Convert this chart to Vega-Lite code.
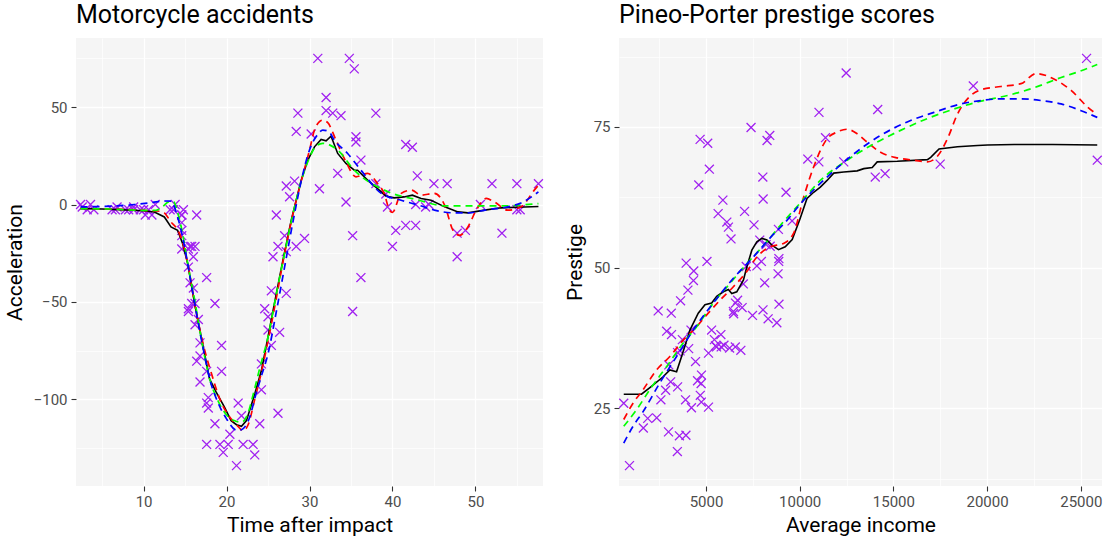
{
"$schema": "https://vega.github.io/schema/vega-lite/v6.json",
"background": "white",
"padding": {"left": 4, "top": 3, "right": 5, "bottom": 5},
"spacing": 18,
"config": {
  "font": "Roboto",
  "view": {"fill": "#F5F5F5", "stroke": null},
  "axis": {"domain": false, "gridColor": "#FFFFFF", "tickColor": "#333333", "tickSize": 5, "tickWidth": 1.1, "labelColor": "#4D4D4D", "labelFontSize": 15, "labelPadding": 3, "titleFontSize": 21, "titleFontWeight": "normal", "titleColor": "#000000", "labelOverlap": false, "labelFlush": false},
  "axisY": {"titlePadding": 8, "labelPadding": 4},
  "axisX": {"titlePadding": 5},
  "title": {"fontSize": 25, "fontWeight": "normal", "color": "#000000", "anchor": "start", "frame": "group", "baseline": "alphabetic", "offset": 10}
},
"datasets": {
"mcycle": [
{"t":2.4,"a":0},{"t":2.6,"a":-1.3},{"t":3.2,"a":-2.7},{"t":3.6,"a":0},{"t":4.0,"a":-2.7},{"t":6.2,"a":-2.7},{"t":6.6,"a":-2.7},{"t":6.8,"a":-1.3},{"t":7.8,"a":-2.7},{"t":8.2,"a":-2.7},
{"t":8.8,"a":-1.3},{"t":8.8,"a":-2.7},{"t":9.6,"a":-2.7},{"t":10.0,"a":-2.7},{"t":10.2,"a":-5.4},{"t":10.6,"a":-2.7},{"t":11.0,"a":-5.4},{"t":11.4,"a":0},{"t":13.2,"a":-2.7},{"t":13.6,"a":-2.7},
{"t":13.8,"a":0},{"t":14.6,"a":-13.3},{"t":14.6,"a":-5.4},{"t":14.6,"a":-5.4},{"t":14.6,"a":-9.3},{"t":14.6,"a":-16},{"t":14.6,"a":-22.8},{"t":14.8,"a":-2.7},{"t":15.4,"a":-22.8},{"t":15.4,"a":-32.1},
{"t":15.4,"a":-53.5},{"t":15.4,"a":-54.9},{"t":15.6,"a":-40.2},{"t":15.6,"a":-21.5},{"t":15.8,"a":-21.5},{"t":15.8,"a":-50.8},{"t":16.0,"a":-42.9},{"t":16.0,"a":-26.8},{"t":16.2,"a":-21.5},{"t":16.2,"a":-50.8},
{"t":16.2,"a":-61.7},{"t":16.4,"a":-5.4},{"t":16.4,"a":-80.4},{"t":16.6,"a":-59},{"t":16.8,"a":-71},{"t":16.8,"a":-91.1},{"t":16.8,"a":-77.7},{"t":17.6,"a":-37.5},{"t":17.6,"a":-85.6},{"t":17.6,"a":-123.1},
{"t":17.6,"a":-101.9},{"t":17.8,"a":-99.1},{"t":17.8,"a":-104.4},{"t":18.6,"a":-112.5},{"t":18.6,"a":-50.8},{"t":19.2,"a":-123.1},{"t":19.4,"a":-85.6},{"t":19.4,"a":-72.3},{"t":19.6,"a":-127.2},{"t":20.2,"a":-123.1},
{"t":20.4,"a":-117.9},{"t":21.2,"a":-134},{"t":21.4,"a":-101.9},{"t":21.8,"a":-108.4},{"t":22.0,"a":-123.1},{"t":23.2,"a":-123.1},{"t":23.4,"a":-128.5},{"t":24.0,"a":-112.5},{"t":24.2,"a":-95.1},{"t":24.2,"a":-81.8},
{"t":24.6,"a":-53.5},{"t":25.0,"a":-64.4},{"t":25.0,"a":-57.6},{"t":25.4,"a":-72.3},{"t":25.4,"a":-44.3},{"t":25.6,"a":-26.8},{"t":26.0,"a":-5.4},{"t":26.2,"a":-107.1},{"t":26.2,"a":-21.5},{"t":26.4,"a":-65.6},
{"t":27.0,"a":-16},{"t":27.2,"a":-45.6},{"t":27.2,"a":-24.2},{"t":27.2,"a":9.5},{"t":27.6,"a":4},{"t":28.2,"a":12},{"t":28.4,"a":-21.5},{"t":28.4,"a":37.5},{"t":28.6,"a":46.9},{"t":29.4,"a":-17.4},
{"t":30.2,"a":36.2},{"t":31.0,"a":75},{"t":31.2,"a":8.1},{"t":32.0,"a":54.9},{"t":32.0,"a":48.2},{"t":32.8,"a":46.9},{"t":33.4,"a":16},{"t":33.8,"a":45.6},{"t":34.4,"a":1.3},{"t":34.8,"a":75},
{"t":35.2,"a":-16},{"t":35.2,"a":-54.9},{"t":35.4,"a":69.6},{"t":35.6,"a":34.8},{"t":35.6,"a":32.1},{"t":36.2,"a":-37.5},{"t":36.2,"a":22.8},{"t":38.0,"a":46.9},{"t":38.0,"a":10.7},{"t":39.2,"a":5.4},
{"t":39.4,"a":-1.3},{"t":40.0,"a":-21.5},{"t":40.4,"a":-13.3},{"t":41.6,"a":30.8},{"t":41.6,"a":-10.7},{"t":42.4,"a":29.4},{"t":42.8,"a":0},{"t":42.8,"a":-10.7},{"t":43.0,"a":14.7},{"t":44.0,"a":-1.3},
{"t":44.4,"a":0},{"t":45.0,"a":10.7},{"t":46.6,"a":10.7},{"t":47.8,"a":-26.8},{"t":47.8,"a":-14.7},{"t":48.8,"a":-13.3},{"t":50.6,"a":0},{"t":52.0,"a":10.7},{"t":53.2,"a":-14.7},{"t":55.0,"a":-2.7},
{"t":55.0,"a":10.7},{"t":55.4,"a":-2.7},{"t":57.6,"a":10.7}
],
"mcfit": [
{"m":"fit1","t":2.4,"a":-2.1},{"m":"fit1","t":5,"a":-2.3},{"m":"fit1","t":8,"a":-2.8},{"m":"fit1","t":10,"a":-3.2},{"m":"fit1","t":11.3,"a":-3.8},{"m":"fit1","t":12.5,"a":-6.4},{"m":"fit1","t":13.3,"a":-11.5},{"m":"fit1","t":14.1,"a":-13.2},{"m":"fit1","t":14.7,"a":-20},{"m":"fit1","t":15.3,"a":-30},{"m":"fit1","t":16.15,"a":-50.9},{"m":"fit1","t":16.95,"a":-68},{"m":"fit1","t":17.95,"a":-89.5},{"m":"fit1","t":18.75,"a":-96.3},{"m":"fit1","t":19.75,"a":-104},{"m":"fit1","t":20.55,"a":-110.9},{"m":"fit1","t":21.2,"a":-113},{"m":"fit1","t":21.8,"a":-113.8},{"m":"fit1","t":22.4,"a":-110.9},{"m":"fit1","t":23.4,"a":-97.2},{"m":"fit1","t":24.2,"a":-85.2},{"m":"fit1","t":25,"a":-68},{"m":"fit1","t":26,"a":-45.8},{"m":"fit1","t":26.8,"a":-28.6},{"m":"fit1","t":27.8,"a":-8.1},{"m":"fit1","t":29,"a":12.5},{"m":"fit1","t":29.8,"a":22.8},{"m":"fit1","t":30.6,"a":29.6},{"m":"fit1","t":31.4,"a":33.4},{"m":"fit1","t":32,"a":32.7},{"m":"fit1","t":32.6,"a":35.1},{"m":"fit1","t":33.4,"a":26.2},{"m":"fit1","t":34.4,"a":21.1},{"m":"fit1","t":35.4,"a":17.6},{"m":"fit1","t":35.8,"a":17.6},{"m":"fit1","t":37,"a":12.5},{"m":"fit1","t":38.2,"a":8.2},{"m":"fit1","t":39.2,"a":4.4},{"m":"fit1","t":40.2,"a":3.4},{"m":"fit1","t":41.4,"a":3.9},{"m":"fit1","t":42.4,"a":4.8},{"m":"fit1","t":43.45,"a":3.1},{"m":"fit1","t":44.65,"a":2.2},{"m":"fit1","t":46.3,"a":-1.2},{"m":"fit1","t":47.9,"a":-3.8},{"m":"fit1","t":49.1,"a":-4.3},{"m":"fit1","t":51.1,"a":-2.9},{"m":"fit1","t":53.1,"a":-1.7},{"m":"fit1","t":55.1,"a":-1.4},{"m":"fit1","t":57.6,"a":-1.0},
{"m":"fit2","t":2.4,"a":-2},{"m":"fit2","t":6,"a":-2.3},{"m":"fit2","t":10,"a":-3},{"m":"fit2","t":12,"a":-3.5},{"m":"fit2","t":12.5,"a":-4.3},{"m":"fit2","t":13.3,"a":-9},{"m":"fit2","t":14,"a":-12.3},{"m":"fit2","t":14.6,"a":-18},{"m":"fit2","t":15.3,"a":-30},{"m":"fit2","t":16.2,"a":-52},{"m":"fit2","t":17.2,"a":-72},{"m":"fit2","t":18.2,"a":-87},{"m":"fit2","t":19.2,"a":-100},{"m":"fit2","t":20.2,"a":-108},{"m":"fit2","t":21.2,"a":-113},{"m":"fit2","t":22,"a":-116},{"m":"fit2","t":22.6,"a":-113},{"m":"fit2","t":23.4,"a":-100},{"m":"fit2","t":24.2,"a":-86},{"m":"fit2","t":25,"a":-70},{"m":"fit2","t":26,"a":-48},{"m":"fit2","t":27,"a":-25},{"m":"fit2","t":28,"a":-5},{"m":"fit2","t":29,"a":12},{"m":"fit2","t":30,"a":27.9},{"m":"fit2","t":30.6,"a":38.2},{"m":"fit2","t":31.2,"a":42.5},{"m":"fit2","t":31.6,"a":43.3},{"m":"fit2","t":32.2,"a":42},{"m":"fit2","t":33.2,"a":33},{"m":"fit2","t":34.4,"a":21.9},{"m":"fit2","t":35.6,"a":14.2},{"m":"fit2","t":37,"a":16},{"m":"fit2","t":38.2,"a":10.8},{"m":"fit2","t":39,"a":5.7},{"m":"fit2","t":39.65,"a":-2.9},{"m":"fit2","t":40,"a":-4},{"m":"fit2","t":41.05,"a":5.7},{"m":"fit2","t":42.3,"a":7.4},{"m":"fit2","t":43.45,"a":4.8},{"m":"fit2","t":45.05,"a":5.7},{"m":"fit2","t":46.3,"a":-0.4},{"m":"fit2","t":47.3,"a":-13.2},{"m":"fit2","t":48.1,"a":-15.8},{"m":"fit2","t":49.1,"a":-11.5},{"m":"fit2","t":50.1,"a":-2.9},{"m":"fit2","t":51.3,"a":3.1},{"m":"fit2","t":52.3,"a":1.3},{"m":"fit2","t":53.9,"a":-2.9},{"m":"fit2","t":55.5,"a":-1.2},{"m":"fit2","t":57.1,"a":7.4},{"m":"fit2","t":57.6,"a":9.9},
{"m":"fit3","t":2.4,"a":-2.1},{"m":"fit3","t":6,"a":-2.3},{"m":"fit3","t":10,"a":-3},{"m":"fit3","t":11.5,"a":-3},{"m":"fit3","t":12.3,"a":-1},{"m":"fit3","t":13,"a":1.3},{"m":"fit3","t":13.6,"a":1.5},{"m":"fit3","t":14.1,"a":-4},{"m":"fit3","t":14.7,"a":-15},{"m":"fit3","t":15.3,"a":-30},{"m":"fit3","t":16.2,"a":-50},{"m":"fit3","t":17,"a":-70},{"m":"fit3","t":18,"a":-90},{"m":"fit3","t":19,"a":-101},{"m":"fit3","t":20,"a":-108},{"m":"fit3","t":21,"a":-111},{"m":"fit3","t":21.8,"a":-111.8},{"m":"fit3","t":22.5,"a":-108},{"m":"fit3","t":23.3,"a":-96},{"m":"fit3","t":24,"a":-84},{"m":"fit3","t":25,"a":-68},{"m":"fit3","t":26,"a":-46},{"m":"fit3","t":27,"a":-25},{"m":"fit3","t":28,"a":-5},{"m":"fit3","t":29,"a":12},{"m":"fit3","t":30,"a":24},{"m":"fit3","t":30.8,"a":30},{"m":"fit3","t":31.6,"a":31.4},{"m":"fit3","t":33.4,"a":27.9},{"m":"fit3","t":35.4,"a":17.6},{"m":"fit3","t":39,"a":7.4},{"m":"fit3","t":43.2,"a":2.2},{"m":"fit3","t":46.3,"a":-0.7},{"m":"fit3","t":49.1,"a":-0.7},{"m":"fit3","t":53,"a":-0.7},{"m":"fit3","t":57.6,"a":0.5},
{"m":"fit4","t":2.4,"a":-1.2},{"m":"fit4","t":5,"a":-1},{"m":"fit4","t":8.9,"a":0},{"m":"fit4","t":11,"a":1},{"m":"fit4","t":12.5,"a":1.8},{"m":"fit4","t":13.3,"a":1.7},{"m":"fit4","t":14.1,"a":-6.4},{"m":"fit4","t":14.7,"a":-16.6},{"m":"fit4","t":15.3,"a":-30},{"m":"fit4","t":16,"a":-47},{"m":"fit4","t":17,"a":-70},{"m":"fit4","t":18,"a":-90},{"m":"fit4","t":19,"a":-102},{"m":"fit4","t":20,"a":-110},{"m":"fit4","t":21,"a":-115.5},{"m":"fit4","t":21.4,"a":-116},{"m":"fit4","t":22,"a":-115},{"m":"fit4","t":22.8,"a":-109},{"m":"fit4","t":23.5,"a":-98},{"m":"fit4","t":24.2,"a":-88},{"m":"fit4","t":25,"a":-76.6},{"m":"fit4","t":26,"a":-55},{"m":"fit4","t":27,"a":-32},{"m":"fit4","t":28,"a":-9},{"m":"fit4","t":29,"a":12},{"m":"fit4","t":30,"a":28},{"m":"fit4","t":31,"a":36},{"m":"fit4","t":31.6,"a":38.2},{"m":"fit4","t":32.3,"a":37.5},{"m":"fit4","t":33,"a":33},{"m":"fit4","t":34.6,"a":26.2},{"m":"fit4","t":36.2,"a":17.6},{"m":"fit4","t":38.65,"a":5.7},{"m":"fit4","t":41.05,"a":2.2},{"m":"fit4","t":43.2,"a":-0.4},{"m":"fit4","t":45.05,"a":-2.9},{"m":"fit4","t":47.5,"a":-4.3},{"m":"fit4","t":49.1,"a":-4.3},{"m":"fit4","t":51.5,"a":-2.6},{"m":"fit4","t":53.9,"a":-1.2},{"m":"fit4","t":55.5,"a":0.8},{"m":"fit4","t":57.6,"a":6.5}
],
"prestige": [
{"income":12351,"prestige":68.8},{"income":25879,"prestige":69.1},{"income":9271,"prestige":63.4},{"income":8865,"prestige":56.8},{"income":8403,"prestige":73.5},{"income":11030,"prestige":77.6},{"income":8258,"prestige":72.6},{"income":14163,"prestige":78.1},{"income":11377,"prestige":73.1},{"income":11023,"prestige":68.8},
{"income":5902,"prestige":62.0},{"income":7059,"prestige":60.0},{"income":8425,"prestige":53.8},{"income":8049,"prestige":62.2},{"income":7405,"prestige":74.9},{"income":6336,"prestige":55.1},{"income":19263,"prestige":82.3},{"income":6112,"prestige":58.1},{"income":9593,"prestige":58.3},{"income":4686,"prestige":72.8},
{"income":12480,"prestige":84.6},{"income":5648,"prestige":59.6},{"income":8034,"prestige":66.1},{"income":25308,"prestige":87.2},{"income":14558,"prestige":66.7},{"income":17498,"prestige":68.4},{"income":4614,"prestige":64.7},{"income":3485,"prestige":34.9},{"income":5092,"prestige":72.1},{"income":10432,"prestige":69.3},
{"income":5180,"prestige":67.5},{"income":6197,"prestige":57.2},{"income":7562,"prestige":57.6},{"income":8206,"prestige":54.1},{"income":4036,"prestige":46.0},{"income":3148,"prestige":41.9},{"income":4348,"prestige":49.4},{"income":2448,"prestige":42.3},{"income":4330,"prestige":47.7},{"income":4761,"prestige":30.9},
{"income":3016,"prestige":32.7},{"income":2901,"prestige":38.7},{"income":5511,"prestige":36.1},{"income":3739,"prestige":37.2},{"income":3161,"prestige":38.1},{"income":4741,"prestige":29.4},{"income":5052,"prestige":51.1},{"income":6259,"prestige":35.7},{"income":4075,"prestige":35.6},{"income":7482,"prestige":41.5},
{"income":8780,"prestige":40.2},{"income":2594,"prestige":26.5},{"income":918,"prestige":14.8},{"income":2370,"prestige":23.3},{"income":8131,"prestige":47.3},{"income":6992,"prestige":47.1},{"income":7956,"prestige":51.1},{"income":8895,"prestige":43.5},{"income":8891,"prestige":51.6},{"income":3116,"prestige":29.7},
{"income":3930,"prestige":20.2},{"income":7869,"prestige":54.9},{"income":611,"prestige":25.9},{"income":3000,"prestige":20.8},{"income":3472,"prestige":17.3},{"income":3582,"prestige":20.1},{"income":3643,"prestige":44.1},{"income":1656,"prestige":21.5},{"income":6860,"prestige":35.3},{"income":4199,"prestige":38.9},
{"income":5134,"prestige":25.2},{"income":5134,"prestige":34.8},{"income":1890,"prestige":23.2},{"income":4443,"prestige":33.3},{"income":3485,"prestige":28.8},{"income":8043,"prestige":42.5},{"income":6686,"prestige":44.2},{"income":6565,"prestige":35.9},{"income":6477,"prestige":41.8},{"income":5811,"prestige":35.9},
{"income":6573,"prestige":43.7},{"income":3942,"prestige":50.8},{"income":5449,"prestige":37.2},{"income":2847,"prestige":28.2},{"income":5795,"prestige":38.1},{"income":7716,"prestige":50.3},{"income":4696,"prestige":27.3},{"income":8316,"prestige":40.9},{"income":7147,"prestige":50.2},{"income":8880,"prestige":51.1},
{"income":5299,"prestige":38.9},{"income":5959,"prestige":36.2},{"income":4549,"prestige":29.9},{"income":6928,"prestige":42.9},{"income":3910,"prestige":26.5},{"income":14032,"prestige":66.1},{"income":8845,"prestige":48.9},{"income":5562,"prestige":35.9},{"income":4224,"prestige":25.1},{"income":4753,"prestige":26.1},
{"income":6462,"prestige":42.2},{"income":3617,"prestige":35.2}
],
"prfit": [
{"m":"fit1","income":611,"prestige":27.5},{"m":"fit1","income":1557,"prestige":27.5},{"m":"fit1","income":2092,"prestige":28.9},{"m":"fit1","income":2713,"prestige":30.6},{"m":"fit1","income":3072,"prestige":31.8},{"m":"fit1","income":3430,"prestige":31.5},{"m":"fit1","income":3698,"prestige":34.2},{"m":"fit1","income":4143,"prestige":38.9},{"m":"fit1","income":4587,"prestige":41.9},{"m":"fit1","income":4946,"prestige":43.4},{"m":"fit1","income":5304,"prestige":43.7},{"m":"fit1","income":5572,"prestige":44.9},{"m":"fit1","income":5925,"prestige":45.7},{"m":"fit1","income":6193,"prestige":46.1},{"m":"fit1","income":6375,"prestige":45.4},{"m":"fit1","income":6643,"prestige":45.7},{"m":"fit1","income":7000,"prestige":47.8},{"m":"fit1","income":7178,"prestige":50.1},{"m":"fit1","income":7446,"prestige":53.1},{"m":"fit1","income":7714,"prestige":54.6},{"m":"fit1","income":7981,"prestige":55.2},{"m":"fit1","income":8249,"prestige":54.9},{"m":"fit1","income":8517,"prestige":54},{"m":"fit1","income":8870,"prestige":53.2},{"m":"fit1","income":9228,"prestige":53.7},{"m":"fit1","income":9600,"prestige":55},{"m":"fit1","income":10000,"prestige":58.5},{"m":"fit1","income":10390,"prestige":62.3},{"m":"fit1","income":10744,"prestige":63.4},{"m":"fit1","income":11102,"prestige":64.3},{"m":"fit1","income":11461,"prestige":65.5},{"m":"fit1","income":11814,"prestige":66.8},{"m":"fit1","income":12349,"prestige":67},{"m":"fit1","income":13067,"prestige":67.2},{"m":"fit1","income":13420,"prestige":67.6},{"m":"fit1","income":13870,"prestige":67.8},{"m":"fit1","income":14137,"prestige":68.8},{"m":"fit1","income":15208,"prestige":68.9},{"m":"fit1","income":16814,"prestige":69.2},{"m":"fit1","income":16991,"prestige":69.6},{"m":"fit1","income":17435,"prestige":71.1},{"m":"fit1","income":18420,"prestige":71.5},{"m":"fit1","income":19491,"prestige":71.7},{"m":"fit1","income":20026,"prestige":71.8},{"m":"fit1","income":21451,"prestige":71.9},{"m":"fit1","income":23500,"prestige":71.9},{"m":"fit1","income":25879,"prestige":71.8},
{"m":"fit2","income":611,"prestige":23},{"m":"fit2","income":1107,"prestige":25.9},{"m":"fit2","income":1643,"prestige":28.3},{"m":"fit2","income":2360,"prestige":31.8},{"m":"fit2","income":3072,"prestige":34.2},{"m":"fit2","income":3784,"prestige":37.1},{"m":"fit2","income":4501,"prestige":39.5},{"m":"fit2","income":5037,"prestige":41.6},{"m":"fit2","income":5749,"prestige":44.2},{"m":"fit2","income":6461,"prestige":46.6},{"m":"fit2","income":7178,"prestige":49.3},{"m":"fit2","income":7714,"prestige":51.9},{"m":"fit2","income":8425,"prestige":53.7},{"m":"fit2","income":9138,"prestige":54.3},{"m":"fit2","income":9673,"prestige":56.1},{"m":"fit2","income":10210,"prestige":62.5},{"m":"fit2","income":10745,"prestige":67.9},{"m":"fit2","income":11102,"prestige":70.8},{"m":"fit2","income":11461,"prestige":72.9},{"m":"fit2","income":11996,"prestige":74.1},{"m":"fit2","income":12531,"prestige":74.6},{"m":"fit2","income":13067,"prestige":73.8},{"m":"fit2","income":13602,"prestige":72.3},{"m":"fit2","income":14314,"prestige":70.5},{"m":"fit2","income":15208,"prestige":69.5},{"m":"fit2","income":16097,"prestige":69.1},{"m":"fit2","income":16814,"prestige":68.8},{"m":"fit2","income":17349,"prestige":69.8},{"m":"fit2","income":17884,"prestige":72.9},{"m":"fit2","income":18420,"prestige":77.3},{"m":"fit2","income":19040,"prestige":80.3},{"m":"fit2","income":19667,"prestige":81.6},{"m":"fit2","income":20738,"prestige":82.2},{"m":"fit2","income":21809,"prestige":82.7},{"m":"fit2","income":22612,"prestige":84.5},{"m":"fit2","income":23592,"prestige":83.5},{"m":"fit2","income":24485,"prestige":81.5},{"m":"fit2","income":25379,"prestige":78.5},{"m":"fit2","income":25879,"prestige":77.2},
{"m":"fit3","income":611,"prestige":21.8},{"m":"fit3","income":1289,"prestige":24.7},{"m":"fit3","income":2001,"prestige":28.3},{"m":"fit3","income":2895,"prestige":32.4},{"m":"fit3","income":3784,"prestige":36.6},{"m":"fit3","income":4501,"prestige":39.5},{"m":"fit3","income":5390,"prestige":43.7},{"m":"fit3","income":6284,"prestige":47.2},{"m":"fit3","income":7178,"prestige":50.7},{"m":"fit3","income":8249,"prestige":54.6},{"m":"fit3","income":8961,"prestige":57.5},{"m":"fit3","income":10031,"prestige":61.5},{"m":"fit3","income":11102,"prestige":65.5},{"m":"fit3","income":12531,"prestige":69.1},{"m":"fit3","income":13956,"prestige":72},{"m":"fit3","income":15384,"prestige":74.4},{"m":"fit3","income":16814,"prestige":76.5},{"m":"fit3","income":18238,"prestige":78.2},{"m":"fit3","income":19667,"prestige":79.6},{"m":"fit3","income":21095,"prestige":80.6},{"m":"fit3","income":22520,"prestige":82},{"m":"fit3","income":23950,"prestige":83.8},{"m":"fit3","income":25020,"prestige":85},{"m":"fit3","income":25879,"prestige":86.1},
{"m":"fit4","income":611,"prestige":18.8},{"m":"fit4","income":1107,"prestige":21.8},{"m":"fit4","income":1643,"prestige":24.4},{"m":"fit4","income":2537,"prestige":29.5},{"m":"fit4","income":3430,"prestige":34.2},{"m":"fit4","income":4320,"prestige":38.9},{"m":"fit4","income":5390,"prestige":43.7},{"m":"fit4","income":6461,"prestige":48.1},{"m":"fit4","income":7532,"prestige":51.9},{"m":"fit4","income":8425,"prestige":55.3},{"m":"fit4","income":9319,"prestige":58.4},{"m":"fit4","income":10031,"prestige":61.3},{"m":"fit4","income":11461,"prestige":66.1},{"m":"fit4","income":12884,"prestige":70.2},{"m":"fit4","income":14314,"prestige":73.5},{"m":"fit4","income":15741,"prestige":75.9},{"m":"fit4","income":17168,"prestige":77.6},{"m":"fit4","income":18595,"prestige":79.1},{"m":"fit4","income":19667,"prestige":79.7},{"m":"fit4","income":20738,"prestige":80},{"m":"fit4","income":21809,"prestige":80},{"m":"fit4","income":22879,"prestige":79.7},{"m":"fit4","income":23950,"prestige":79.1},{"m":"fit4","income":25020,"prestige":77.9},{"m":"fit4","income":25879,"prestige":76.7}
]
},
"hconcat": [
{
  "title": {"text": "Motorcycle accidents"},
  "width": 467, "height": 448,
  "layer": [
    {
      "data": {"name": "mcycle"},
      "mark": {"type": "point", "shape": "M-1,-1L1,1M1,-1L-1,1", "filled": false, "color": "#A020F0", "opacity": 1, "size": 80, "strokeWidth": 1.3},
      "encoding": {
        "x": {"field": "t", "type": "quantitative", "scale": {"domain": [1.85, 58.15], "nice": false, "zero": false},
              "axis": {"title": "Time after impact", "values": [5,10,15,20,25,30,35,40,45,50,55], "labelExpr": "datum.value % 10 === 0 ? datum.label : ''",
                       "gridWidth": {"condition": {"test": "datum.value % 10 === 0", "value": 1.3}, "value": 0.65},
                       "tickOpacity": {"condition": {"test": "datum.value % 10 === 0", "value": 1}, "value": 0}}},
        "y": {"field": "a", "type": "quantitative", "scale": {"domain": [-144.45, 85.45], "nice": false, "zero": false},
              "axis": {"title": "Acceleration", "values": [-125,-100,-75,-50,-25,0,25,50,75], "labelExpr": "datum.value % 50 === 0 ? datum.label : ''",
                       "gridWidth": {"condition": {"test": "datum.value % 50 === 0", "value": 1.3}, "value": 0.65},
                       "tickOpacity": {"condition": {"test": "datum.value % 50 === 0", "value": 1}, "value": 0}}}
      }
    },
    {"data": {"name": "mcfit"}, "transform": [{"filter": "datum.m === 'fit1'"}],
     "mark": {"type": "line", "color": "#000000", "strokeWidth": 1.6},
     "encoding": {"x": {"field": "t", "type": "quantitative"}, "y": {"field": "a", "type": "quantitative"}}},
    {"data": {"name": "mcfit"}, "transform": [{"filter": "datum.m === 'fit2'"}],
     "mark": {"type": "line", "color": "#FF0000", "strokeWidth": 1.7, "strokeDash": [7, 5], "interpolate": "monotone"},
     "encoding": {"x": {"field": "t", "type": "quantitative"}, "y": {"field": "a", "type": "quantitative"}}},
    {"data": {"name": "mcfit"}, "transform": [{"filter": "datum.m === 'fit3'"}],
     "mark": {"type": "line", "color": "#00FF00", "strokeWidth": 1.7, "strokeDash": [7, 5], "interpolate": "monotone"},
     "encoding": {"x": {"field": "t", "type": "quantitative"}, "y": {"field": "a", "type": "quantitative"}}},
    {"data": {"name": "mcfit"}, "transform": [{"filter": "datum.m === 'fit4'"}],
     "mark": {"type": "line", "color": "#0000FF", "strokeWidth": 1.7, "strokeDash": [7, 5], "interpolate": "monotone"},
     "encoding": {"x": {"field": "t", "type": "quantitative"}, "y": {"field": "a", "type": "quantitative"}}}
  ]
},
{
  "title": {"text": "Pineo-Porter prestige scores"},
  "width": 483, "height": 448,
  "layer": [
    {
      "data": {"name": "prestige"},
      "mark": {"type": "point", "shape": "M-1,-1L1,1M1,-1L-1,1", "filled": false, "color": "#A020F0", "opacity": 1, "size": 80, "strokeWidth": 1.3},
      "encoding": {
        "x": {"field": "income", "type": "quantitative", "scale": {"domain": [358, 26132], "nice": false, "zero": false},
              "axis": {"title": "Average income", "format": "d", "values": [2500,5000,7500,10000,12500,15000,17500,20000,22500,25000], "labelExpr": "datum.value % 5000 === 0 ? datum.label : ''",
                       "gridWidth": {"condition": {"test": "datum.value % 5000 === 0", "value": 1.3}, "value": 0.65},
                       "tickOpacity": {"condition": {"test": "datum.value % 5000 === 0", "value": 1}, "value": 0}}},
        "y": {"field": "prestige", "type": "quantitative", "scale": {"domain": [11.18, 90.82], "nice": false, "zero": false},
              "axis": {"title": "Prestige", "values": [12.5,25,37.5,50,62.5,75,87.5], "labelExpr": "datum.value % 25 === 0 ? datum.label : ''",
                       "gridWidth": {"condition": {"test": "datum.value % 25 === 0", "value": 1.3}, "value": 0.65},
                       "tickOpacity": {"condition": {"test": "datum.value % 25 === 0", "value": 1}, "value": 0}}}
      }
    },
    {"data": {"name": "prfit"}, "transform": [{"filter": "datum.m === 'fit1'"}],
     "mark": {"type": "line", "color": "#000000", "strokeWidth": 1.6},
     "encoding": {"x": {"field": "income", "type": "quantitative"}, "y": {"field": "prestige", "type": "quantitative"}}},
    {"data": {"name": "prfit"}, "transform": [{"filter": "datum.m === 'fit2'"}],
     "mark": {"type": "line", "color": "#FF0000", "strokeWidth": 1.7, "strokeDash": [7, 5], "interpolate": "monotone"},
     "encoding": {"x": {"field": "income", "type": "quantitative"}, "y": {"field": "prestige", "type": "quantitative"}}},
    {"data": {"name": "prfit"}, "transform": [{"filter": "datum.m === 'fit3'"}],
     "mark": {"type": "line", "color": "#00FF00", "strokeWidth": 1.7, "strokeDash": [7, 5], "interpolate": "monotone"},
     "encoding": {"x": {"field": "income", "type": "quantitative"}, "y": {"field": "prestige", "type": "quantitative"}}},
    {"data": {"name": "prfit"}, "transform": [{"filter": "datum.m === 'fit4'"}],
     "mark": {"type": "line", "color": "#0000FF", "strokeWidth": 1.7, "strokeDash": [7, 5], "interpolate": "monotone"},
     "encoding": {"x": {"field": "income", "type": "quantitative"}, "y": {"field": "prestige", "type": "quantitative"}}}
  ]
}
]
}
